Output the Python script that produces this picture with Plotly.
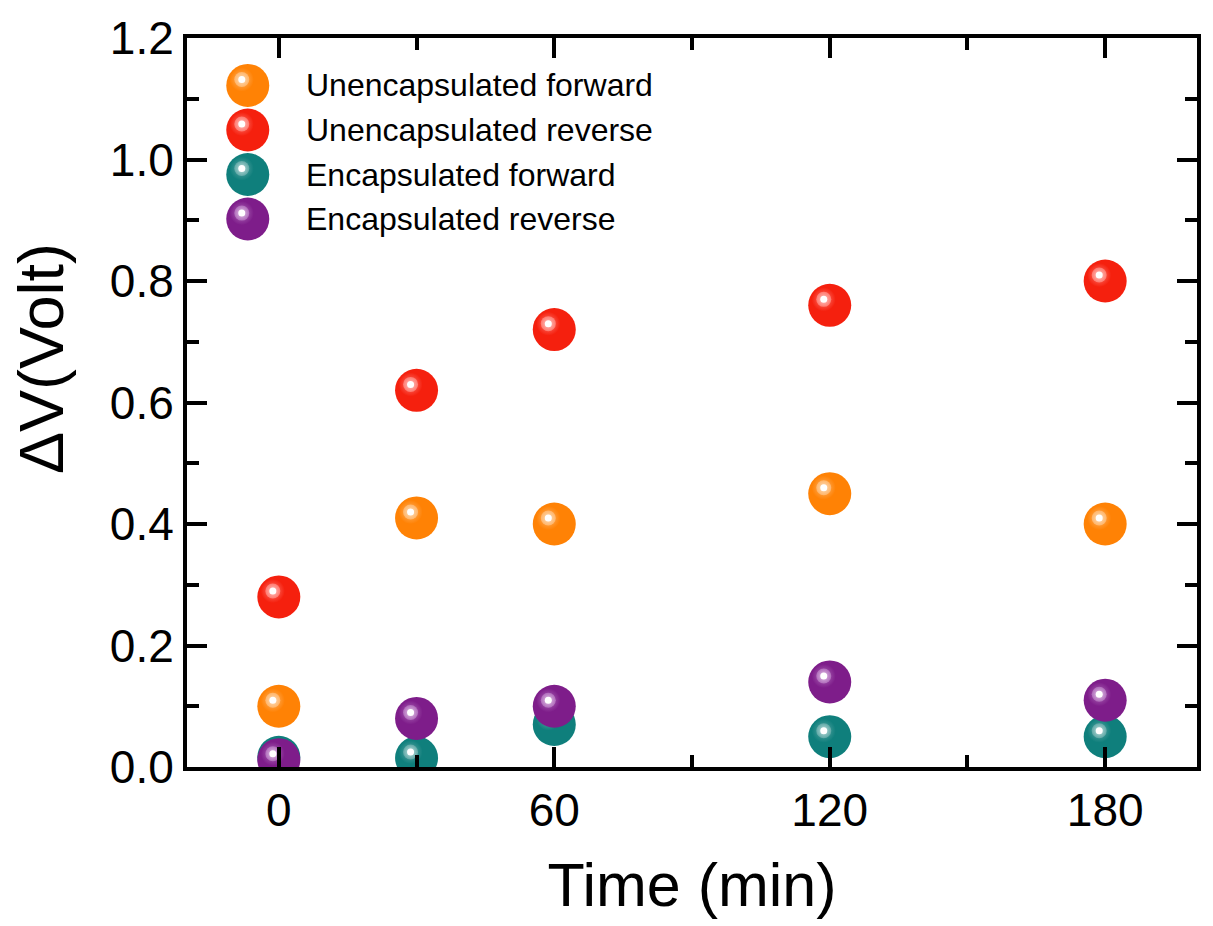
import plotly.graph_objects as go

# ---- data ----
time_min = [0, 30, 60, 120, 180]
series_names = ["Unencapsulated forward", "Unencapsulated reverse",
                "Encapsulated forward", "Encapsulated reverse"]
unenc_forward = [0.10, 0.41, 0.40, 0.45, 0.40]
unenc_reverse = [0.28, 0.62, 0.72, 0.76, 0.80]
enc_forward = [0.016, 0.015, 0.07, 0.05, 0.05]
enc_reverse = [0.012, 0.08, 0.10, 0.14, 0.11]
series_values = [unenc_forward, unenc_reverse, enc_forward, enc_reverse]
series_colors = ["#FF8205", "#F5200E", "#0F7F7C", "#7E1D8A"]
series_tints = ["#FFB56A", "#FF7A70", "#5FA8A6", "#B06CBB"]
series_tints2 = ["#FFDDB8", "#FFC4C0", "#BFE0DF", "#E2C4E7"]

x_ticks = [0, 60, 120, 180]
y_ticks = [0.0, 0.2, 0.4, 0.6, 0.8, 1.0, 1.2]

# ---- layout geometry ----
W, H = 1213, 926
ML, MR, MT, MB = 187, 12, 30, 159
PW, PH = W - ML - MR, H - MT - MB
XR = [-20, 200]
YR = [0, 1.2]
BALL = 43
HL_DX, HL_DY = -6, -6  # highlight offset in pixels (left, up)
FONT = "Liberation Sans, Arial, sans-serif"

dx_units = -HL_DX * (XR[1] - XR[0]) / PW
dy_units = -HL_DY * (YR[1] - YR[0]) / PH
XR_HL = [XR[0] + dx_units, XR[1] + dx_units]
YR_HL = [YR[0] - dy_units, YR[1] - dy_units]

fig = go.Figure()
layout_axes = {}


def ax_name(prefix, i):
    return prefix if i == 1 else f"{prefix}{i}"


def highlight_traces(xs, ys, col, tint, tint2, xa, ya):
    return [
        go.Scatter(x=xs, y=ys, mode="markers", xaxis=xa, yaxis=ya, showlegend=False,
                   hoverinfo="skip",
                   marker=dict(size=24, color=col, line=dict(width=0),
                               gradient=dict(type="radial", color=tint))),
        go.Scatter(x=xs, y=ys, mode="markers", xaxis=xa, yaxis=ya, showlegend=False,
                   hoverinfo="skip",
                   marker=dict(size=15, color=tint, line=dict(width=0),
                               gradient=dict(type="radial", color=tint2))),
        go.Scatter(x=xs, y=ys, mode="markers", xaxis=xa, yaxis=ya, showlegend=False,
                   hoverinfo="skip",
                   marker=dict(size=7, color="white", line=dict(width=0))),
    ]


idx = 1
for name, vals, col, tint, tint2 in zip(series_names, series_values, series_colors,
                                        series_tints, series_tints2):
    # body
    xa, ya = f"x{'' if idx == 1 else idx}", f"y{'' if idx == 1 else idx}"
    fig.add_trace(go.Scatter(x=time_min, y=vals, mode="markers", name=name,
                             xaxis=xa, yaxis=ya, showlegend=False, hoverinfo="skip",
                             marker=dict(size=BALL, color=col, line=dict(width=0))))
    if idx > 1:
        layout_axes[ax_name("xaxis", idx)] = dict(overlaying="x", range=XR, visible=False)
        layout_axes[ax_name("yaxis", idx)] = dict(overlaying="y", range=YR, visible=False)
    idx += 1
    # highlight (same data, drawn on axes shifted by a few pixels)
    xa, ya = f"x{idx}", f"y{idx}"
    for t in highlight_traces(time_min, vals, col, tint, tint2, xa, ya):
        fig.add_trace(t)
    layout_axes[ax_name("xaxis", idx)] = dict(overlaying="x", range=XR_HL, visible=False)
    layout_axes[ax_name("yaxis", idx)] = dict(overlaying="y", range=YR_HL, visible=False)
    idx += 1

# ---- legend drawn on its own unit axis ----
leg_x = (248 - ML) / PW
leg_text_x = (304 - ML) / PW
leg_rows = [(MT + PH - y) / PH for y in (78, 123, 168, 213)]
lx_hl = leg_x + HL_DX / PW
li = idx
layout_axes[ax_name("xaxis", li)] = dict(overlaying="x", range=[0, 1], visible=False)
layout_axes[ax_name("yaxis", li)] = dict(overlaying="y", range=[0, 1], visible=False)
annotations = []
for k, (name, col, tint, tint2) in enumerate(zip(series_names, series_colors,
                                                 series_tints, series_tints2)):
    ly = leg_rows[k]
    fig.add_trace(go.Scatter(x=[leg_x], y=[ly], mode="markers", xaxis=f"x{li}", yaxis=f"y{li}",
                             showlegend=False, hoverinfo="skip",
                             marker=dict(size=BALL, color=col, line=dict(width=0))))
    for t in highlight_traces([lx_hl], [ly - HL_DY / PH], col, tint, tint2, f"x{li}", f"y{li}"):
        fig.add_trace(t)
    annotations.append(dict(x=leg_text_x, y=ly, xref="paper", yref="paper", text=name,
                            showarrow=False, xanchor="left", yanchor="middle",
                            font=dict(size=32, color="black", family=FONT)))

# y-axis title (placed as in the reference, slightly above the axis centre)
annotations.append(dict(x=(41 - ML) / PW, y=(MT + PH - 354) / PH, xref="paper", yref="paper",
                        text="ΔV(Volt)", textangle=-90, showarrow=False,
                        xanchor="center", yanchor="middle",
                        font=dict(size=63, color="black", family=FONT)))

axis_common = dict(showline=True, linewidth=4, linecolor="black", mirror="ticks",
                   ticks="inside", ticklen=20, tickwidth=4, tickcolor="black",
                   showgrid=False, zeroline=False,
                   tickfont=dict(size=46, color="black", family=FONT))

fig.update_layout(
    width=W, height=H,
    margin=dict(l=ML, r=MR, t=MT, b=MB),
    paper_bgcolor="white", plot_bgcolor="white",
    showlegend=False,
    xaxis=dict(range=XR, tickvals=x_ticks, ticktext=[str(v) for v in x_ticks],
               minor=dict(dtick=30, tick0=0, ticks="inside", ticklen=12, tickwidth=4, tickcolor="black"),
               title=dict(text="Time (min)", font=dict(size=61, color="black", family=FONT), standoff=29),
               **axis_common),
    yaxis=dict(range=YR, tickvals=y_ticks, ticktext=[f"{v:.1f}" for v in y_ticks],
               minor=dict(dtick=0.1, tick0=0, ticks="inside", ticklen=12, tickwidth=4, tickcolor="black"),
               **axis_common),
    annotations=annotations,
    **layout_axes,
)

fig.write_html("out.html")
